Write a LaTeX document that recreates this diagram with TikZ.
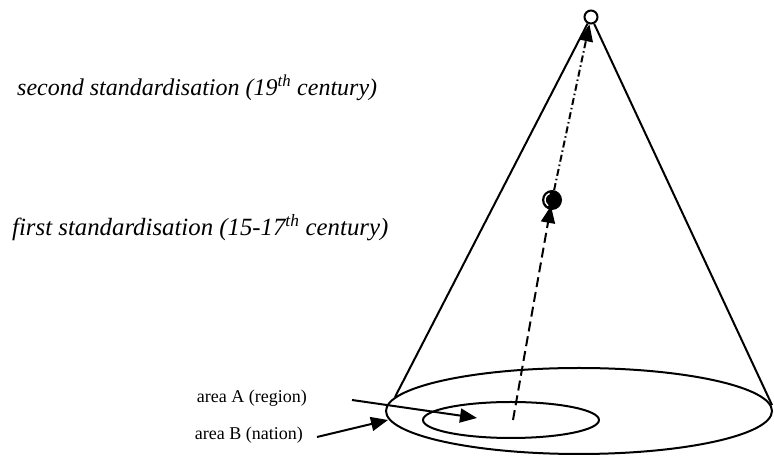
\documentclass[tikz,border=0pt]{standalone}
\usepackage{fontspec}
\setmainfont{Liberation Serif}
\usetikzlibrary{arrows.meta,calc}
\begin{document}
\begin{tikzpicture}[x=1pt,y=1pt,
  outline/.style={line width=2pt},
  tip/.style={-{Triangle[length=17pt,width=14pt]}},
  eralabel/.style={anchor=west,inner sep=0pt,font=\fontsize{24}{28}\selectfont\itshape},
  arealabel/.style={anchor=east,inner sep=0pt,font=\fontsize{18}{21}\selectfont},
  dashline/.style={line width=2pt,dash pattern=on 10pt off 5pt},
  dashdot/.style={line width=2pt,dash pattern=on 7pt off 3pt on 1.5pt off 3pt}]
\useasboundingbox (0,0) rectangle (774,457);
% base ellipses
\draw[outline] (579,46) ellipse [x radius=193, y radius=43];
\draw[outline] (511,37) ellipse [x radius=88, y radius=18];
% apex and intermediate point
\node[circle,draw,line width=2pt,minimum size=13pt,inner sep=0pt,fill=white] (top) at (591,440) {};
\node[circle,fill=black,minimum size=20pt,inner sep=0pt] (mid) at (552,257) {};
\draw[white,line width=1.4pt] (mid.center) ++(110:7) arc[start angle=110,end angle=235,radius=7];
\coordinate (base) at (513,37);
\coordinate (bl) at (395,60);
\coordinate (br) at (772,52);
% cone sides
\draw[outline] (top) -- (bl);
\draw[outline] (top) -- (br);
% axis arrows
\draw[dashline,tip] (base) -- ($(mid.center)!6pt!(base)$);
\draw[dashdot,tip] (mid) -- (top);
% labels
\node[eralabel] (second) at (17,369) {second standardisation (19\textsuperscript{th} century)};
\node[eralabel,font=\fontsize{24.8}{28}\selectfont\itshape] (first) at (12,229) {first standardisation (15-17\textsuperscript{th} century)};
\node[arealabel] (areaA) at (307,59) {area A (region)};
\node[arealabel] (areaB) at (303,22) {area B (nation)};
\coordinate (aA) at (352,57);
\coordinate (aAt) at (477,39);
\coordinate (aB) at (317,20);
\coordinate (aBt) at (388,37);
\draw[outline,tip] (aA) -- (aAt);
\draw[outline,tip] (aB) -- (aBt);
\end{tikzpicture}
\end{document}
